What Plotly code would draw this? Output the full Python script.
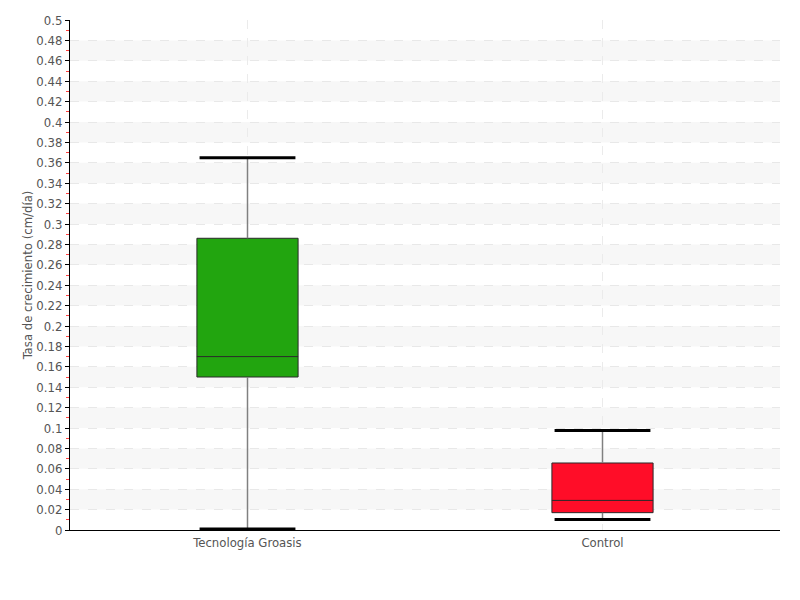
import plotly.graph_objects as go

categories = ["Tecnología Groasis", "Control"]
q_min = [0.001, 0.0103]
q1 = [0.150, 0.017]
median = [0.170, 0.029]
q3 = [0.286, 0.0657]
q_max = [0.365, 0.0975]
colors = ["#22a50f", "#ff0d28"]
y_ticks = [round(i * 0.02, 2) for i in range(26)]
y_labels = [("%g" % v) for v in y_ticks]

FONT = "DejaVu Sans Condensed, Roboto, sans-serif"
xs = list(range(len(categories)))

fig = go.Figure()

shapes = []
for k in range(12):
    lo = 0.02 + 0.04 * k
    shapes.append(dict(type="rect", xref="paper", yref="y", x0=0, x1=1, y0=lo, y1=lo + 0.02,
                       fillcolor="#f7f7f7", line_width=0, layer="below"))

for i, c in enumerate(categories):
    for a, b in ((q_min[i], q1[i]), (q3[i], q_max[i])):
        fig.add_trace(go.Scatter(
            x=[xs[i], xs[i]], y=[a, b], mode="lines",
            line=dict(color="#808080", width=1.5), showlegend=False, hoverinfo="skip",
        ))
    fig.add_trace(go.Box(
        x=[xs[i]], q1=[q1[i]], median=[median[i]], q3=[q3[i]],
        lowerfence=[q1[i]], upperfence=[q3[i]],
        fillcolor=colors[i], line=dict(color="#2a2a2a", width=1),
        width=0.285, whiskerwidth=0, boxpoints=False, showlegend=False, name=c,
    ))
    for v in (q_min[i], q_max[i]):
        fig.add_trace(go.Scatter(
            x=[xs[i] - 0.135, xs[i] + 0.135], y=[v, v], mode="lines",
            line=dict(color="black", width=3), showlegend=False, hoverinfo="skip",
        ))

fig.update_layout(
    width=800, height=600,
    margin=dict(l=62, r=28, t=12, b=78),
    plot_bgcolor="white", paper_bgcolor="white",
    font=dict(family=FONT, size=13, color="#555555"),
    shapes=shapes,
    xaxis=dict(
        range=[-0.5, 1.5], tickvals=xs, ticktext=categories, automargin=False,
        showgrid=True, gridcolor="#ebebeb", griddash="dash", gridwidth=1,
        showline=True, linecolor="black", linewidth=1,
        ticks="", zeroline=False, tickfont=dict(size=13, color="#555555"),
    ),
    yaxis=dict(
        range=[0, 0.5], tickvals=y_ticks, ticktext=y_labels, automargin=False,
        showgrid=True, gridcolor="#e8e8e8", griddash="dash", gridwidth=1,
        showline=True, linecolor="black", linewidth=1,
        ticks="outside", ticklen=4, tickcolor="black",
        minor=dict(tickvals=[round(0.01 + 0.02 * i, 2) for i in range(25)], ticks="outside",
                   ticklen=3, tickcolor="#ff4040", tickwidth=1, showgrid=False),
        zeroline=False,
        title=dict(text="Tasa de crecimiento (cm/día)", font=dict(size=13, color="#555555"), standoff=0),
        tickfont=dict(size=13, color="#555555"),
    ),
)

fig.write_html("out.html")
